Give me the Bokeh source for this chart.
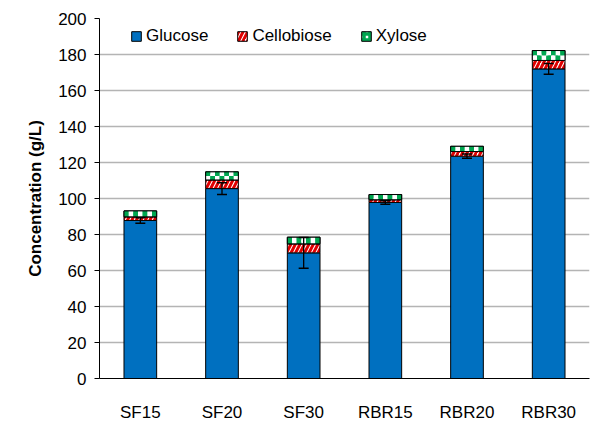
from bokeh.plotting import figure
from bokeh.models import (ColumnDataSource, Whisker, TeeHead, Legend, LegendItem,
                          FactorRange)
from bokeh.embed import file_html
from bokeh.resources import INLINE

samples = ["SF15", "SF20", "SF30", "RBR15", "RBR20", "RBR30"]
glucose = [87.8, 105.5, 69.8, 97.8, 123.5, 172.0]
cellobiose = [2.0, 4.8, 5.0, 1.5, 2.6, 4.7]
xylose = [3.3, 4.5, 3.7, 2.9, 2.9, 5.5]
glucose_err = [1.5, 3.3, 8.6, 1.0, 1.2, 3.0]

g_top = glucose
c_top = [g + c for g, c in zip(glucose, cellobiose)]
x_top = [c + x for c, x in zip(c_top, xylose)]

src = ColumnDataSource(dict(
    samples=samples, zero=[0] * 6, g_top=g_top, c_top=c_top, x_top=x_top,
    upper=[g + e for g, e in zip(glucose, glucose_err)],
    lower=[g - e for g, e in zip(glucose, glucose_err)],
))

FONT = "Liberation Sans"
FS = "17px"
GREEN = "#00A650"
W = 0.4

p = figure(x_range=FactorRange(*samples, range_padding=0.0), y_range=(0, 200),
           width=592, height=424, output_backend="svg", toolbar_location=None,
           min_border_left=99, min_border_right=3, min_border_top=18, min_border_bottom=46)
p.outline_line_color = None
p.background_fill_color = "white"

# checkerboard cells for the xylose band, derived from the bar data
PX_PER_UNIT = 360 / 200.0
cx, cy, cw, ch, cc = [], [], [], [], []
NCOLS = 7
for i, (b, t) in enumerate(zip(c_top, x_top)):
    h_px = (t - b) * PX_PER_UNIT
    nrows = max(1, round(h_px / 4.7))
    rh = (t - b) / nrows
    cwid = W / NCOLS
    left = i + 0.5 - W / 2
    for r in range(nrows):
        for c in range(NCOLS):
            cx.append(left + (c + 0.5) * cwid)
            cy.append(t - (r + 0.5) * rh)
            cw.append(cwid)
            ch.append(rh)
            cc.append(GREEN if (r + c) % 2 == 0 else "white")
chk_src = ColumnDataSource(dict(x=cx, y=cy, w=cw, h=ch, c=cc))

r_g = p.vbar(x="samples", bottom="zero", top="g_top", width=W, source=src,
             fill_color="#0070C0", line_color="black", line_width=1)
r_c = p.vbar(x="samples", bottom="g_top", top="c_top", width=W, source=src,
             fill_color="white", line_color="black", line_width=1,
             hatch_pattern="right_diagonal_line", hatch_color="#E00000",
             hatch_weight=3, hatch_scale=9)
r_x = p.vbar(x="samples", bottom="c_top", top="x_top", width=W, source=src,
             fill_color="white", line_color="black", line_width=1,
             hatch_pattern="cross", hatch_color=GREEN,
             hatch_weight=3.5, hatch_scale=6)
p.rect(x="x", y="y", width="w", height="h", source=chk_src,
       fill_color="c", line_color=None)
p.vbar(x="samples", bottom="c_top", top="x_top", width=W, source=src,
       fill_color=None, line_color="black", line_width=1)

wh = Whisker(base="samples", upper="upper", lower="lower", source=src,
             line_color="black", line_width=1.3, level="overlay",
             upper_head=TeeHead(size=10, line_color="black", line_width=1.5),
             lower_head=TeeHead(size=10, line_color="black", line_width=1.5))
p.add_layout(wh)

legend = Legend(items=[
    LegendItem(label="Glucose", renderers=[r_g]),
    LegendItem(label="Cellobiose", renderers=[r_c]),
    LegendItem(label="Xylose", renderers=[r_x]),
], orientation="horizontal", location=(31, 332))
legend.border_line_color = None
legend.background_fill_alpha = 0
legend.label_text_font = FONT
legend.label_text_font_size = FS
legend.label_text_color = "black"
legend.glyph_width = 12
legend.glyph_height = 12
legend.spacing = 28
legend.label_standoff = 4
legend.margin = 0
legend.padding = 0
p.add_layout(legend)

p.xgrid.grid_line_color = None
p.ygrid.grid_line_color = "#B4B4B4"
p.ygrid.grid_line_width = 1.5
p.yaxis.ticker = list(range(0, 201, 20))

p.yaxis.axis_label = "Concentration (g/L)"
p.yaxis.axis_label_text_font = FONT
p.yaxis.axis_label_text_font_style = "bold"
p.yaxis.axis_label_text_font_size = FS
p.yaxis.axis_label_text_color = "black"
p.yaxis.axis_label_standoff = 10
p.yaxis.major_label_text_font = FONT
p.yaxis.major_label_text_font_size = FS
p.yaxis.major_label_text_font_style = "normal"
p.yaxis.major_label_text_color = "black"
p.yaxis.major_tick_out = 5
p.yaxis.major_tick_in = 0
p.yaxis.minor_tick_line_color = None
p.yaxis.axis_line_color = "black"
p.yaxis.major_tick_line_color = "black"
p.yaxis.major_label_standoff = 8

p.xaxis.major_label_text_font = FONT
p.xaxis.major_label_text_font_size = FS
p.xaxis.major_label_text_font_style = "normal"
p.xaxis.major_label_text_color = "black"
p.xaxis.major_tick_line_color = None
p.xaxis.axis_line_color = "black"
p.xaxis.major_label_standoff = 18

open("out.html", "w").write(file_html(p, INLINE))
